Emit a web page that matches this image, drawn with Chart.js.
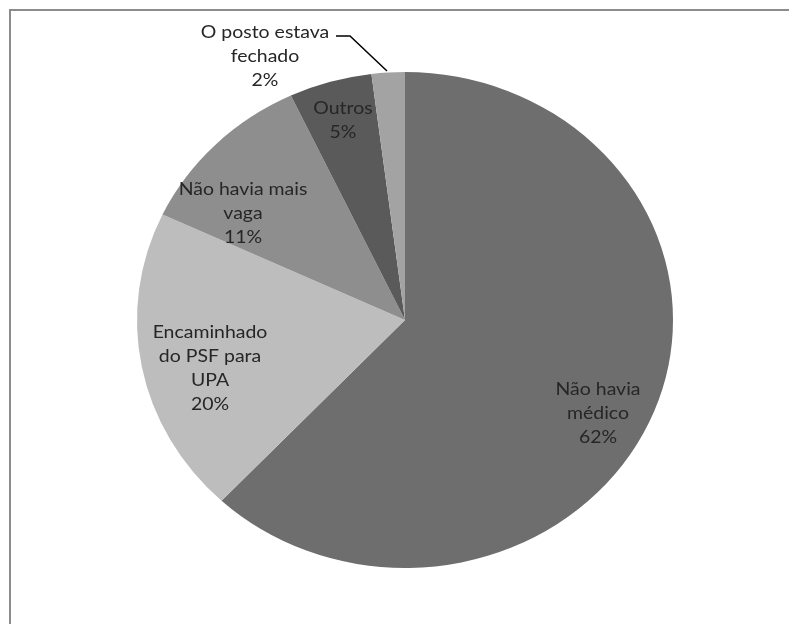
<!DOCTYPE html>
<html>
<head>
<meta charset="utf-8">
<script src="https://cdn.jsdelivr.net/npm/chart.js@4/dist/chart.umd.min.js"></script>
<style>
  html, body { margin:0; padding:0; background:#fff; overflow:hidden; }
  #wrap { position:relative; width:789px; height:624px; }
  #frame { position:absolute; left:9px; top:9px; width:900px; height:800px; border:2px solid #8c8c8c; box-sizing:border-box; }
  canvas { position:absolute; left:0; top:0; }
</style>
</head>
<body>
<div id="wrap">
  <div id="frame"></div>
  <canvas id="pieChart" width="789" height="624"></canvas>
</div>
<script>
// data (percent of answers)
const categories = ['Não havia médico', 'Encaminhado do PSF para UPA', 'Não havia mais vaga', 'Outros', 'O posto estava fechado'];
const values = [62, 20, 11, 5, 2];
const sliceColors = ['#6e6e6e', '#bdbdbd', '#8e8e8e', '#5a5a5a', '#a3a3a3'];

// label text lines + where they sit (layout only)
const labelLines = [
  ['Não havia', 'médico'],
  ['Encaminhado', 'do PSF para', 'UPA'],
  ['Não havia mais', 'vaga'],
  ['Outros'],
  ['O posto estava', 'fechado']
];
const labelPos = [[598, 389], [210, 332], [243, 189], [343, 108], [265, 32]];

const cx = 405;
const stretchX = 268 / 248; // the pie is a bit wider than tall

const stretchPlugin = {
  id: 'stretch',
  beforeDatasetsDraw(chart) {
    const ctx = chart.ctx;
    ctx.save();
    ctx.translate(cx, 0);
    ctx.scale(stretchX, 1);
    ctx.translate(-cx, 0);
  },
  afterDatasetsDraw(chart) {
    chart.ctx.restore();
  }
};

const labelPlugin = {
  id: 'pieLabels',
  afterDraw(chart) {
    const ctx = chart.ctx;
    ctx.save();
    // leader line for the small slice
    ctx.strokeStyle = '#000';
    ctx.lineWidth = 1.5;
    ctx.beginPath();
    ctx.moveTo(336, 36);
    ctx.lineTo(350, 36);
    ctx.lineTo(387, 71);
    ctx.stroke();

    ctx.fillStyle = '#262626';
    ctx.font = '18px Lato';
    ctx.textAlign = 'center';
    ctx.textBaseline = 'middle';
    values.forEach((v, i) => {
      const lines = labelLines[i].concat([v + '%']);
      const [x, y] = labelPos[i];
      lines.forEach((t, j) => {
        ctx.save();
        ctx.translate(x, y + j * 24);
        ctx.scale(stretchX, 1);
        ctx.fillText(t, 0, 0);
        ctx.restore();
      });
    });
    ctx.restore();
  }
};

new Chart(document.getElementById('pieChart').getContext('2d'), {
  type: 'pie',
  data: {
    labels: categories,
    datasets: [{
      data: values,
      backgroundColor: sliceColors,
      borderWidth: 0
    }]
  },
  options: {
    responsive: false,
    animation: false,
    layout: { padding: { top: 72, bottom: 56, left: 105, right: 84 } },
    plugins: { legend: { display: false }, tooltip: { enabled: false } }
  },
  plugins: [stretchPlugin, labelPlugin]
});
</script>
</body>
</html>
